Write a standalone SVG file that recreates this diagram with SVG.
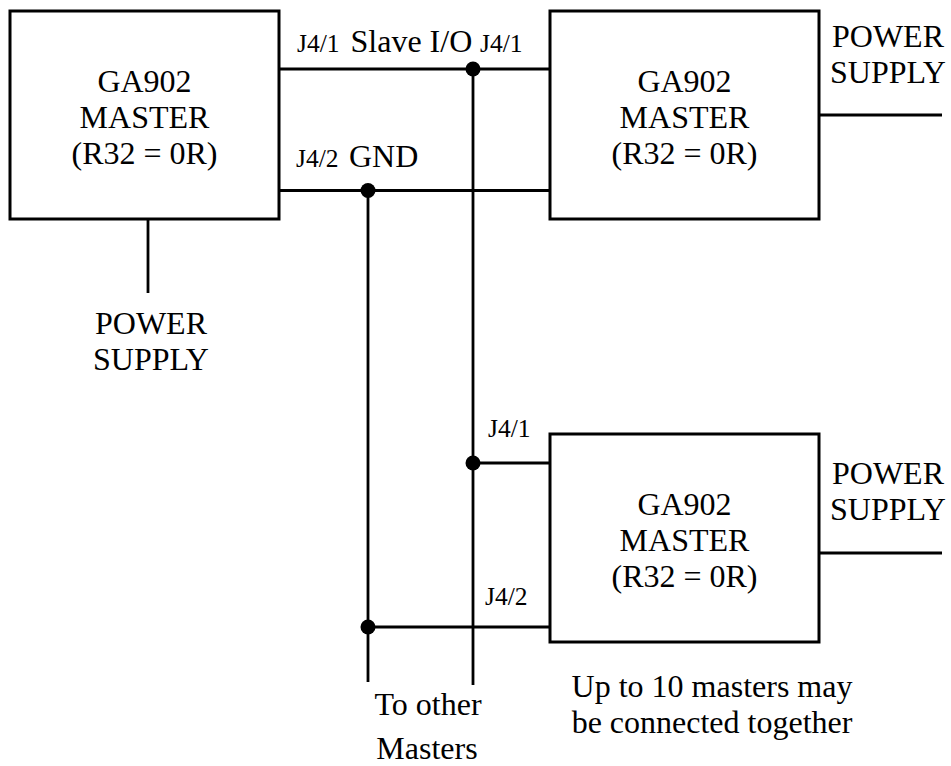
<svg xmlns="http://www.w3.org/2000/svg" width="951" height="766" viewBox="0 0 951 766">
<style>
.box{fill:#fff;stroke:#000;stroke-width:3}
.w{stroke:#000;stroke-width:2.8;fill:none}
.dot{fill:#000}
.t{font-family:'Liberation Serif','DejaVu Serif',serif;font-size:32px;fill:#000}
.s{font-family:'Liberation Serif','DejaVu Serif',serif;font-size:25.5px;fill:#000}
.m{text-anchor:middle}
</style>
<rect width="951" height="766" fill="#fff"/>
<g id="connectors">
<line class="w" x1="279" y1="69" x2="550" y2="69"/>
<line class="w" x1="279" y1="190.5" x2="550" y2="190.5"/>
<line class="w" x1="473" y1="69" x2="473" y2="685"/>
<line class="w" x1="368" y1="190.5" x2="368" y2="682"/>
<line class="w" x1="473" y1="463" x2="550" y2="463"/>
<line class="w" x1="368" y1="627" x2="550" y2="627"/>
<line class="w" x1="148" y1="219" x2="148" y2="293"/>
<line class="w" x1="819" y1="115" x2="942" y2="115"/>
<line class="w" x1="819" y1="553" x2="942" y2="553"/>
<circle class="dot" cx="473" cy="69" r="7.5"/>
<circle class="dot" cx="368" cy="190.5" r="7.5"/>
<circle class="dot" cx="473" cy="463" r="7.5"/>
<circle class="dot" cx="368" cy="627" r="7.5"/>
</g>
<g id="master1">
<rect class="box" x="10" y="11" width="269" height="208"/>
<text class="t m" x="144.5" y="92">GA902</text>
<text class="t m" x="144.5" y="128">MASTER</text>
<text class="t m" x="144.5" y="164">(R32 = 0R)</text>
</g>
<g id="master2">
<rect class="box" x="550" y="11" width="269" height="208"/>
<text class="t m" x="684.5" y="92">GA902</text>
<text class="t m" x="684.5" y="128">MASTER</text>
<text class="t m" x="684.5" y="164">(R32 = 0R)</text>
</g>
<g id="master3">
<rect class="box" x="550" y="434" width="269" height="208"/>
<text class="t m" x="684.5" y="515">GA902</text>
<text class="t m" x="684.5" y="551">MASTER</text>
<text class="t m" x="684.5" y="587">(R32 = 0R)</text>
</g>
<g id="ps1">
<text class="t m" x="151" y="334">POWER</text>
<text class="t m" x="151" y="370">SUPPLY</text>
</g>
<g id="ps2">
<text class="t m" x="888" y="47">POWER</text>
<text class="t m" x="888" y="83">SUPPLY</text>
</g>
<g id="ps3">
<text class="t m" x="888" y="484">POWER</text>
<text class="t m" x="888" y="520">SUPPLY</text>
</g>
<g id="labels">
<text class="s" x="297" y="52">J4/1</text>
<text class="t" x="350.5" y="52">Slave I/O</text>
<text class="s" x="480" y="52">J4/1</text>
<text class="s" x="296" y="167">J4/2</text>
<text class="t" x="349" y="167">GND</text>
<text class="s" x="488" y="437">J4/1</text>
<text class="s" x="485" y="605">J4/2</text>
<text class="t m" x="428" y="715">To other</text>
<text class="t m" x="427" y="759">Masters</text>
<text class="t m" x="712" y="697">Up to 10 masters may</text>
<text class="t m" x="712" y="733">be connected together</text>
</g>
</svg>
